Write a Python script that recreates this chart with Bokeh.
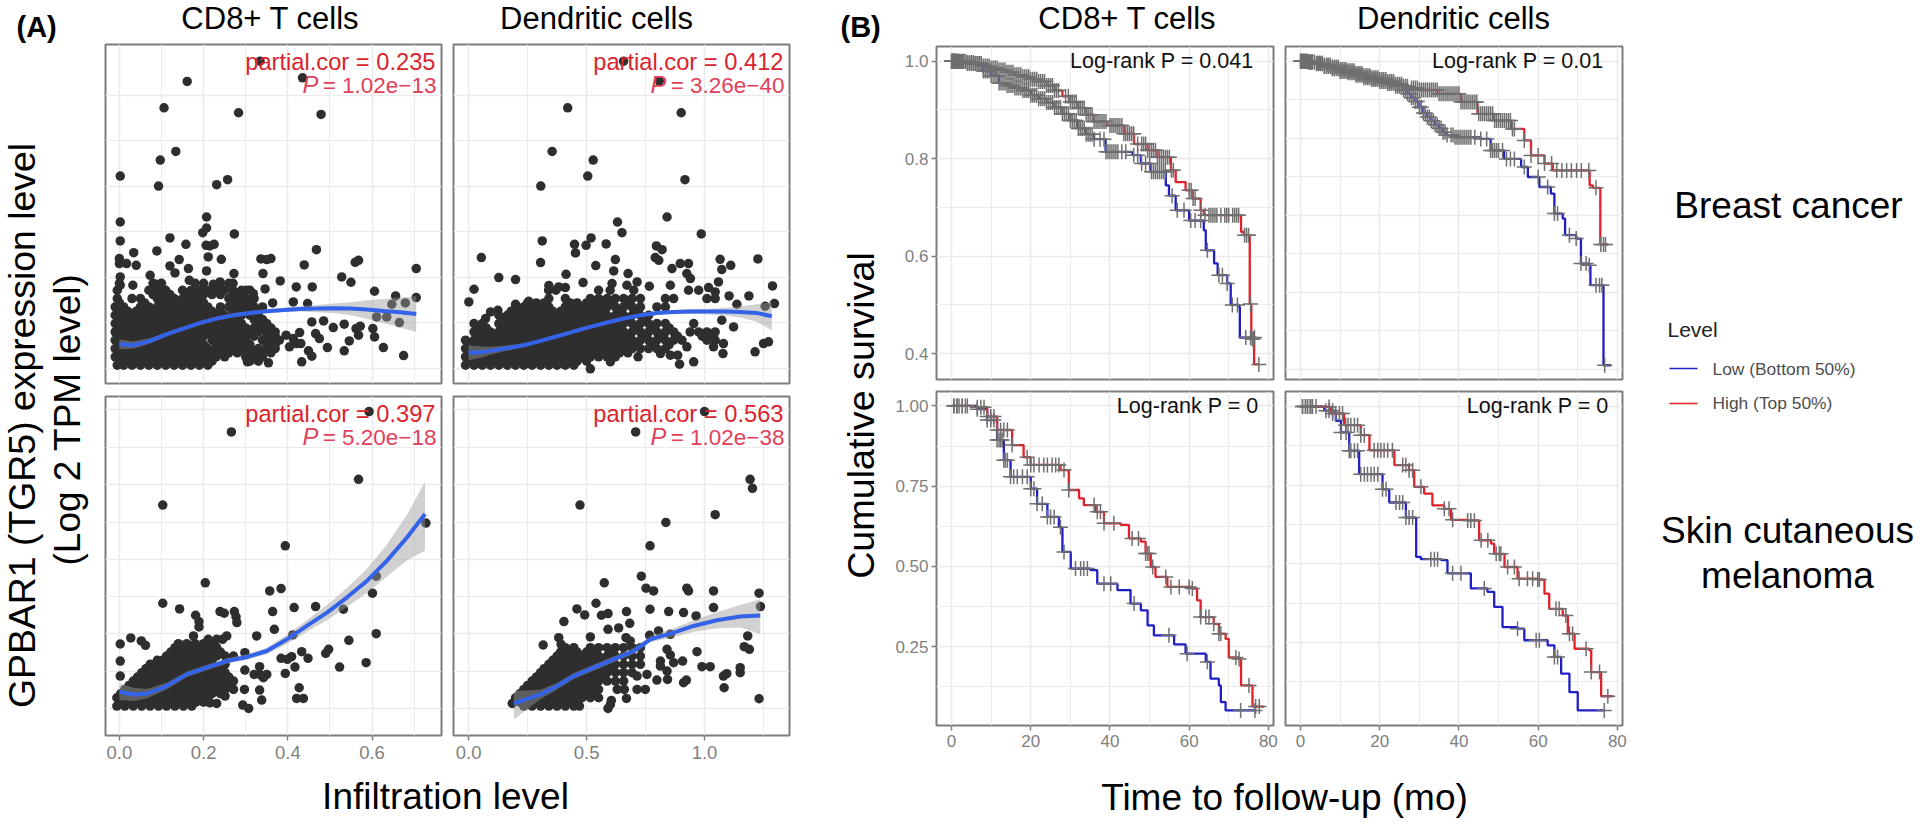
from bokeh.plotting import figure
from bokeh.layouts import row, column
from bokeh.models import Range1d, Grid, FixedTicker, LinearAxis, NumeralTickFormatter, Label
from bokeh.core.properties import value
from bokeh.embed import file_html
from bokeh.resources import INLINE
import numpy as np
from math import pi

FONT = "Liberation Sans"

# ---------- scatter panels: infiltration level (x) against expression (y, arbitrary units) ----------
a1_x = [.334,.435,.161,.106,.283,.479,.134,.097,.093,.002,.231,.257,.207,.002,.207,.198,.273,.120,.002,.158,.206,.225,.215,.089,.034,.468,.211,.142,.242,0,.017,0,.040,.336,.360,.350,.568,.560,.120,.164,.132,.207,.439,.705,.272,.341,.073,.002,.528,.382,.550,.032,.002,.166,.239,.223,.089,.420,.458,.346,.606,.656,.705,.679,.647,.413,.447,.364,.318,.302,.611,.635,.665,.457,.485,.534,.572,.562,.602,.508,.466,.428,.396,.606,.568,.475,.546,.413,.421,.494,.534,.627,.675,.449,.457,.404,.431,.433,.354,.304]
a1_y = [922,872,861,782,767,762,651,625,547,577,551,566,454,439,421,407,403,391,382,372,369,372,367,352,347,356,334,326,327,329,314,314,309,328,329,326,324,318,307,299,286,292,310,299,284,284,279,274,274,262,258,249,249,264,259,252,252,244,244,238,231,217,212,196,192,199,194,196,224,234,154,154,137,139,142,132,126,119,119,122,104,107,99,94,99,89,82,89,74,62,52,62,38,52,36,64,74,19,16,19]
a1_rows = [
 (9,[-.005,.01,.03,.05,.07,.09,.11,.13,.15,.17,.19,.21]),
 (34,[-.01,.01,.03,.05,.07,.09,.11,.13,.15,.17,.19,.21,.23,.25,.30,.32,.34]),
 (59,[-.01,.01,.03,.05,.07,.09,.11,.13,.15,.17,.19,.21,.23,.25,.27,.29,.31,.33,.35,.37]),
 (84,[-.01,.01,.03,.05,.07,.09,.11,.13,.15,.17,.19,.22,.24,.26,.28,.30,.34,.36,.38]),
 (109,[-.01,.01,.03,.05,.07,.09,.11,.13,.15,.17,.19,.21,.23,.25,.27,.29,.31,.33,.35,.37]),
 (134,[-.01,.01,.03,.05,.07,.09,.11,.13,.15,.17,.19,.21,.23,.25,.27,.29,.33,.35]),
 (159,[-.01,.01,.03,.05,.07,.09,.11,.13,.15,.17,.19,.21,.23,.25,.27,.29,.31,.33]),
 (184,[-.01,.01,.05,.07,.09,.11,.13,.15,.17,.19,.21,.24,.26,.28,.30,.32,.34]),
 (209,[-.005,.03,.05,.09,.11,.13,.15,.17,.19,.26,.28,.30,.32]),
 (234,[-.005,.07,.09,.11,.15,.17,.19,.21,.23,.25,.27,.29,.31]),
 (255,[0,.08,.10,.18,.20,.24,.26,.27]),
 (21,[0,.02,.04,.06,.08,.10,.12,.14,.16,.18,.20,.22,.31,.33]),
 (46,[0,.02,.04,.06,.08,.10,.12,.14,.16,.18,.20,.22,.24,.26,.28,.30,.32,.34,.36]),
 (71,[0,.02,.04,.06,.08,.10,.12,.14,.16,.18,.20,.23,.25,.27,.29,.31,.35,.37]),
 (96,[0,.02,.04,.06,.08,.10,.12,.14,.16,.18,.20,.22,.24,.26,.28,.30,.32,.35,.37]),
 (121,[0,.02,.04,.06,.08,.10,.12,.14,.16,.18,.20,.22,.24,.26,.28,.30,.32,.34,.36]),
 (146,[0,.02,.04,.06,.08,.10,.12,.14,.16,.18,.20,.22,.24,.26,.28,.32,.34]),
 (171,[0,.02,.04,.06,.08,.10,.12,.14,.16,.18,.20,.22,.24,.27,.29,.31,.33]),
 (196,[0,.06,.10,.12,.14,.16,.18,.20,.27,.29,.31]),
 (221,[.08,.10,.12,.16,.18,.20,.22,.24,.27,.29]),
]
a1_fit_x = [0,.033,.073,.113,.152,.192,.231,.271,.31,.35,.39,.429,.469,.508,.548,.588,.627,.667,.705]
a1_fit = [72,69,82,102,119,136,149,159,166,171,175,178,179,180,179,176,172,168,163]
a1_hi = [87,80,90,108,125,142,155,165,172,177,181,186,190,194,198,204,208,212,216]
a1_lo = [57,58,74,96,113,130,143,153,160,165,169,170,168,166,160,148,136,122,109]

a2_x = [.657,.808,.420,.901,.354,.528,.505,.917,.306,.841,.631,.650,.986,.519,.312,.498,.449,.583,.453,.796,.820,.791,.806,.054,.305,.622,.539,1.066,1.226,.897,.932,.862,1.111,1.073,.615,.676,.413,.925,.128,.199,.940,1.059,.485,.023,1.288,.340,.382,.410,.766,.608,.671,.714,.855,.932,1.017,.975,1.045,1.104,1.188,.001,1.296,1.137,1.257,.255,.199,.297,.432,.124,.093,.072,1.123,1.073,.954,1.271,1.250,1.214,1.080,.954,.894,.516,.601,.718,1.038,1.078,.925,.886,.855,.813]
a2_y = [922,863,782,767,651,625,577,566,547,454,439,407,403,391,382,369,372,373,346,367,356,332,324,332,317,326,308,327,328,314,314,299,309,296,292,284,282,284,272,266,269,259,257,237,247,248,244,242,246,254,249,259,249,234,242,234,229,217,217,199,194,192,186,201,192,189,194,174,169,149,124,144,134,79,74,49,74,19,12,-2,19,34,64,44,64,39,39,44]
a2_rows = [
 (9,[-.013,.023,.058,.093,.128,.164,.199,.234,.269,.305,.34,.375,.41,.446]),
 (34,[-.013,.023,.058,.093,.128,.164,.199,.234,.269,.305,.34,.375,.41,.446,.481,.516,.551,.587,.622]),
 (59,[-.013,.023,.058,.093,.128,.164,.199,.234,.269,.305,.34,.375,.41,.446,.481,.516,.551,.587,.622,.657,.693,.728,.763,.798,.834]),
 (84,[-.013,.023,.058,.093,.128,.164,.199,.234,.269,.305,.34,.375,.41,.446,.481,.516,.551,.587,.622,.657,.693,.728,.763,.798,.834,.869,.904,1.01,1.045]),
 (109,[.023,.058,.093,.128,.164,.199,.234,.269,.305,.34,.375,.41,.446,.481,.516,.551,.587,.622,.657,.693,.728,.763,.798,.834,.869,.939,.975,1.01,1.045]),
 (134,[.023,.058,.128,.164,.199,.234,.269,.305,.34,.375,.41,.446,.481,.516,.551,.587,.622,.657,.693,.728,.763,.798,.834]),
 (159,[.128,.164,.199,.234,.269,.305,.34,.375,.41,.446,.481,.516,.551,.587,.622,.657,.693,.728,.763]),
 (184,[.199,.234,.269,.305,.34,.41,.446,.481,.516,.551,.587,.622,.657,.693,.728,.798,.834]),
 (209,[.34,.41,.516,.551,.587,.622,.657,.693,.728,.834,.869,1.01,1.045]),
 (234,[.339,.37,.551,.6,.7]),
 (21,[.005,.04,.075,.11,.146,.18,.216,.25,.287,.32,.357,.39,.428,.46,.5]),
 (46,[.005,.04,.075,.11,.146,.18,.216,.25,.287,.32,.357,.39,.428,.46,.5,.533,.57,.604,.64,.675]),
 (71,[.005,.04,.075,.11,.146,.18,.216,.25,.287,.32,.357,.39,.428,.46,.5,.533,.57,.604,.64,.675,.71,.78,.85]),
 (96,[.04,.075,.11,.146,.18,.216,.25,.287,.32,.357,.39,.428,.46,.5,.533,.57,.604,.64,.675,.745,.816,.885,.99,1.03]),
 (121,[.04,.075,.146,.18,.216,.25,.287,.32,.357,.39,.428,.46,.5,.533,.57,.604,.64,.71,.78,.85]),
 (146,[.146,.18,.216,.25,.287,.32,.357,.39,.428,.46,.5,.533,.57,.604,.675,.745]),
 (171,[.18,.216,.25,.287,.32,.357,.39,.428,.46,.5,.533,.57,.64,.71]),
 (196,[.25,.287,.32,.43,.46,.5,.533,.57,.604,.675]),
]
a2_fit_x = [0,.05,.093,.16,.234,.305,.375,.445,.516,.587,.657,.728,.798,.869,.939,1.01,1.08,1.15,1.22,1.285]
a2_fit = [46,48,52,60,69,82,96,110,124,137,149,159,166,169,170,170,170,169,166,156]
a2_hi = [68,65,64,68,75,87,101,115,129,142,154,164,171,175,177,178,181,186,192,199]
a2_lo = [24,31,40,52,63,77,91,105,119,132,144,154,161,163,163,162,159,152,140,114]

a3_x = [.593,.266,.568,.103,.728,.394,.204,.610,.357,.384,.601,.103,.143,.415,.466,.532,.364,.239,.249,.273,.181,.277,.189,.189,.279,.368,.326,.176,.255,.412,.610,.027,.052,.062,.002,.545,.433,.497,.490,.448,.409,.384,.399,.586,.523,.417,.394,.002,.333,.298,.320,.350,.333,.342,.002,.427,.333,.421,.437,.338,.297,.293,.307,.231,.215,.251,.298]
a3_y = [889,828,686,609,555,487,376,396,352,359,345,315,298,302,305,297,290,290,285,290,279,274,260,244,257,237,217,217,217,220,224,211,202,189,193,204,170,177,165,150,155,150,147,137,124,124,105,142,125,115,102,102,102,92,97,62,55,30,30,25,57,10,0,15,17,37,167]
a3_rows = [
 (7,[-.006,.013,.033,.053,.073,.093,.112,.132,.152,.172]),
 (32,[-.006,.013,.033,.053,.073,.093,.112,.132,.152,.172,.192,.211]),
 (57,[.013,.033,.053,.073,.093,.112,.132,.152,.172,.192,.211,.231,.251,.271]),
 (82,[.033,.053,.073,.093,.112,.132,.152,.172,.192,.211,.231,.251,.271]),
 (107,[.053,.073,.093,.112,.132,.152,.172,.192,.211,.231,.251]),
 (132,[.073,.093,.112,.132,.152,.172,.192,.211,.251]),
 (157,[.112,.132,.152,.172,.192,.211,.231,.251,.271]),
 (182,[.132,.152,.172,.192,.211,.231]),
 (207,[.211,.231,.245]),
 (19,[.003,.023,.043,.063,.083,.103,.122,.142,.162,.182,.2]),
 (44,[.003,.023,.043,.063,.083,.103,.122,.142,.162,.182,.2,.22,.24]),
 (69,[.023,.043,.063,.083,.103,.122,.142,.162,.182,.2,.22,.24,.26]),
 (94,[.043,.063,.083,.103,.122,.142,.162,.182,.2,.22,.24,.26]),
 (119,[.063,.083,.103,.122,.142,.162,.182,.2,.22,.24]),
 (144,[.09,.103,.122,.142,.162,.182,.2,.22]),
 (169,[.122,.142,.162,.182,.2,.22,.24]),
 (194,[.14,.16,.18,.2,.22]),
]
a3_fit_x = [0,.033,.065,.112,.16,.207,.255,.303,.35,.398,.445,.493,.54,.588,.635,.683,.726]
a3_fit = [50,42,44,67,102,122,142,154,172,207,247,287,332,382,442,512,582]
a3_hi = [75,62,58,77,110,130,150,162,182,221,264,310,360,418,490,580,679]
a3_lo = [25,22,30,57,94,114,134,146,162,193,230,264,304,346,394,444,472]

a4_x = [1.0,.708,1.193,1.203,.472,1.045,.836,.769,.732,.575,.752,.784,.925,.932,1.038,1.231,1.237,1.038,.769,.540,.459,.492,.669,.848,.911,.964,.563,.591,.404,.683,.636,.591,.805,.767,.855,1.183,.382,.392,.316,.516,.667,.685,1.168,1.190,.968,.841,.855,.907,.813,.869,.989,1.024,.813,.841,1.151,1.151,1.094,1.080,.843,.798,.923,.911,1.083,.714,.756,.749,.714,.669,.605,.601,.591,1.231,.185]
a4_y = [889,828,686,659,609,580,557,487,396,376,360,352,360,352,352,345,305,302,297,315,298,280,290,290,287,277,279,284,260,255,241,237,232,219,222,217,212,192,190,214,212,202,185,177,170,177,160,142,142,137,125,125,127,112,122,107,104,97,87,85,85,77,62,97,102,57,57,30,24,12,0,29,15]
a4_rows = [
 (7,[.234,.269,.305,.34,.375,.41,.446,.47]),
 (32,[.199,.234,.269,.305,.34,.375,.41,.446,.481,.516,.551]),
 (57,[.234,.269,.305,.34,.375,.41,.446,.481,.516,.551,.63,.66]),
 (82,[.269,.305,.34,.375,.41,.446,.481,.516,.551,.587,.622,.657]),
 (107,[.305,.34,.375,.41,.446,.481,.516,.551,.587,.622,.657,.693]),
 (132,[.34,.375,.41,.446,.481,.516,.551,.587,.622,.657,.693,.728]),
 (157,[.375,.41,.446,.481,.516,.551,.587,.622,.657,.693,.728]),
 (182,[.41,.446,.516,.551,.587,.622,.657,.693,.728]),
 (19,[.217,.25,.287,.32,.357,.39,.428,.46]),
 (44,[.217,.25,.287,.32,.357,.39,.428,.46,.5,.533]),
 (69,[.25,.287,.32,.357,.39,.428,.46,.5,.533]),
 (94,[.287,.32,.357,.39,.428,.46,.5,.533,.57]),
 (119,[.32,.357,.39,.428,.46,.5,.533,.57,.604]),
 (144,[.357,.39,.428,.46,.5,.533,.57]),
 (169,[.39,.428,.46,.5,.533,.604]),
]
a4_fit_x = [.192,.305,.375,.446,.53,.615,.7,.77,.869,.953,1.052,1.151,1.236]
a4_fit = [15,42,67,97,122,147,172,207,227,247,264,275,278]
a4_hi = [52,56,77,106,131,156,181,216,240,264,288,310,327]
a4_lo = [-33,28,57,88,113,138,163,198,214,230,240,242,224]

# ---------- survival panels: time (mo) against cumulative survival ----------
b1_hi_t = [0,2,4,6,8,10,12,14,16,18,20,22,24,26,28,30,32,34,36,39.3,43.5,46.1,49.5,52,55.4,56.6,59.1,60.8,62.9,63.7,73.1,73.8,75.3,75.7,76.4,77.6]
b1_hi_s = [1,.999,.997,.995,.99,.986,.982,.977,.972,.968,.963,.958,.95,.94,.928,.916,.904,.89,.876,.868,.851,.83,.817,.803,.776,.752,.735,.718,.694,.684,.65,.643,.502,.43,.378,.378]
b1_lo_t = [0,4,8,10,12,14,16,18,20,22,24,26,28,30,32,34,36,38.9,45.7,47.8,50.3,54.1,54.9,56.6,60,63.7,64.2,66.3,67.2,69.6,70.5,72.6,72.8,76.8]
b1_lo_s = [1,.995,.98,.97,.955,.95,.945,.94,.93,.923,.915,.905,.892,.878,.862,.85,.84,.814,.807,.79,.773,.745,.724,.694,.673,.653,.612,.585,.561,.544,.5,.496,.433,.433]
b1_hi_c = [0,.1,.2,.3,.4,.5,.6,.7,.8,.9,1,1.2,1.4,1.6,1.8,2,2.2,2.4,2.6,2.8,3,3.5,4,4.5,5,5.5,6,6.5,7,7.5,8,8.5,9,9.5,10,10.5,11,11.5,12,12.5,13,13.5,14,14.5,15,15.5,16,16.5,17,17.5,18,18.5,19,19.5,20,20.5,21,21.5,22,22.5,23,23.5,24,24.5,25,25.5,26,26.5,27,28.8,29.5,30,30.5,31,31.5,32,32.5,33,33.5,34,34.5,35,35.5,36,36.5,37,37.5,38,38.5,39,40,40.5,41,41.5,42,42.5,43,43.5,44,44.5,45,45.5,46,47,48,48.5,49,49.5,50,50.5,51,51.5,52,52.5,53,53.5,54,54.5,55,55.5,56,60,60.5,61,61.5,63,64,65,65.5,66,66.5,67,68,69,69.5,70,71,71.5,72,72.5,74,74.5,75,75.5,75.9,76.2,77.6]
b1_lo_c = [0,.2,.4,.6,.8,1,1.5,2,2.5,3,3.5,4,4.5,5,5.5,6,6.5,7,7.5,8,8.5,9,9.5,10,10.5,11,11.5,12,12.5,13,13.5,14,14.5,15,15.5,16,16.5,17,17.5,18,18.5,19,19.5,20,20.5,21,21.5,22,22.5,23,23.5,24,24.5,25,25.5,26,26.5,27,27.5,28,28.5,29,29.5,30,30.5,31,31.5,32,32.5,33,33.5,34,34.5,35,35.5,36,37.5,38.5,39,39.5,40,40.5,41,41.5,42,43,44,46,47,48,49,50,50.5,51,51.5,52,52.5,53,53.5,54,55.7,57,58.7,60.4,61.5,62.9,64.6,67.5,68.4,69.6,70.9,72.2,74.3,75.5,76.5]

b2_hi_t = [0,2,4,6,8,10,12,14,16,18,20,22,24,26,28,30,34.6,40.5,44.7,48.9,53.1,56.5,58.2,61.6,63.7,73,73.8,75.7,77.6]
b2_hi_s = [1,.998,.995,.99,.985,.978,.975,.968,.962,.957,.952,.947,.94,.935,.93,.925,.915,.894,.863,.846,.824,.794,.755,.734,.716,.677,.671,.524,.524]
b2_lo_t = [0,2,4,6,8,10,12,14,16,18,20,22,24,26,27,28,29,30,31,32,33,34,35,36,37,39,45.5,48,51.4,55.7,57.4,60.3,63.2,64.1,66.2,66.8,69.6,70.8,72.9,73.2,76.5,78.4]
b2_lo_s = [1,.998,.993,.986,.98,.973,.97,.963,.957,.952,.947,.942,.935,.925,.915,.905,.895,.88,.865,.855,.845,.835,.825,.815,.808,.802,.798,.768,.746,.725,.699,.673,.656,.604,.591,.548,.539,.474,.47,.418,.21,.21]
b2_hi_c = [0,.2,.4,.6,.8,1,1.2,1.4,1.6,1.8,2,2.2,2.4,2.6,2.8,3,4.2,4.8,5.4,6,6.6,7,7.5,8,8.5,9,9.5,10,10.5,11,11.5,12,12.5,13,13.5,14,14.5,15,15.5,16,16.5,17,17.5,18,18.5,19,19.5,20,20.5,21,21.5,22,22.5,23,23.5,24,24.5,25,25.5,26,26.5,27,28,28.5,29,29.5,30,30.5,31,31.5,32,32.5,33,33.5,34,34.5,35,35.5,36,36.5,37,37.5,38,38.5,39,39.5,40,40.5,41,41.5,42,42.5,43,43.5,44,44.5,45,45.5,46,46.5,47,47.5,48,48.5,49,49.5,50,50.5,51,51.5,52,52.5,53,53.5,54,56.5,58.2,60,61.6,63.4,64.7,66,67.2,68.4,69.7,70.9,72.8,74.6,75.8,76.5,77]
b2_lo_c = [0,.5,1,1.5,2,2.5,3,3.5,4,4.5,5,5.5,6,6.5,7,7.5,8,8.5,9,9.5,10,10.5,11,11.5,12,12.5,13,13.5,14,14.5,15,15.5,16,16.5,17,17.5,18,18.5,19,19.5,20,20.5,21,21.5,22,22.5,23,23.5,24,24.5,25,25.5,26,26.5,27,27.5,28,28.5,29,29.5,30,30.5,31,31.5,32,32.5,33,33.5,34,34.5,35,35.5,36,36.5,37,38,38.5,39,39.5,40,40.5,41,41.5,42,42.5,43,44,45.5,47,48,48.5,49,49.5,50,51,52,53,54,56.5,60,62.4,64.1,64.9,67.9,69.6,70.8,72.1,72.9,74.6,75.5,76.1,76.8]

b3_hi_t = [0,5.6,9,11.5,15.3,18.2,19.96,27.5,29.6,32.2,33.4,36.4,38.5,42.7,44.8,47.8,49,50.3,51.5,54.5,60.8,62,62.9,66.2,67.5,69.2,70,72.5,73.1,76,78.9]
b3_hi_s = [1,.996,.967,.925,.878,.84,.816,.8,.738,.712,.691,.67,.634,.629,.587,.577,.54,.498,.467,.436,.431,.394,.342,.321,.29,.274,.216,.211,.129,.063,.063]
b3_lo_t = [0,6.5,9,11.5,13.2,14.9,20,21.6,24.2,27.1,28,30.1,35.1,36.8,41.9,45.2,47.8,49.5,51.1,56.2,59.1,64.2,65.4,67.5,68,69.2,76.4]
b3_lo_s = [1,.99,.956,.894,.831,.779,.742,.695,.654,.622,.545,.493,.488,.446,.426,.384,.363,.316,.285,.257,.228,.202,.15,.129,.077,.051,.051]
b3_hi_c = [.6,1.3,1.9,2.7,3.5,6.5,7.4,8.2,9,9.9,10.7,11.5,12.4,13.2,14.1,15.3,19.1,20,20.8,22.1,23.3,24.2,25.4,26.3,27.1,28.4,29.6,36,36.8,37.6,38.5,41,45.6,47.2,49,49.5,49.9,50.8,54.1,55.4,57.5,60,60.8,62.9,64.2,65,66.2,67.5,68,71.8,72.6,75.1,76.8,77.7]
b3_lo_c = [.6,1.4,2.7,4,6.5,9,9.9,10.7,11.5,12,12.4,12.8,13.2,13.6,14.1,14.9,15.7,16.6,17.9,19.1,20,20.8,21.6,22.9,24.2,25,25.9,27.5,28.4,31.3,32.6,33.4,34.3,38.5,40.2,46.1,54.9,59.5,64.6,73,76.6]

b4_hi_t = [0,7.2,7.7,11,15.2,17.4,23.7,27.4,28.7,31.2,33.3,36.3,38,42.2,45.1,48.1,48.9,51.5,54.8,59.9,61.6,62.8,66.2,67.5,69.2,72.9,73.4,75.9,78.8]
b4_hi_s = [1,.999,.978,.941,.909,.861,.814,.798,.745,.723,.686,.675,.64,.638,.575,.564,.532,.49,.453,.45,.405,.357,.336,.278,.23,.225,.156,.079,.079]
b4_lo_t = [0,6,8.9,10.2,12.3,14.8,20.7,22.4,26.6,29.2,30.4,35.5,37.1,43,47.2,48.9,51,54.8,56.5,62.4,64.1,65.8,67.9,70,76.7]
b4_lo_s = [1,.987,.955,.918,.86,.785,.737,.695,.647,.522,.515,.512,.47,.422,.411,.363,.299,.294,.257,.241,.204,.151,.092,.034,.034]
b4_hi_c = [.5,1.2,1.8,2.4,3,3.9,7.2,8.1,8.9,9.8,10.6,11.4,12,12.7,13.6,14.4,15.2,16.1,18.6,19.5,20.3,21.1,22,23.2,25.8,26.6,27.4,28.3,30.4,36.3,37.5,38.4,42.2,43,43.9,45.6,47.3,49.4,50.2,50.6,52.3,54,55.2,57.3,58.6,59.9,60.3,64.5,65.3,67,67.9,68.7,72.1,73.4,75.5,77.6]
b4_lo_c = [.5,1.3,2.6,6.4,7.2,8.1,10.2,11.5,12.3,12.7,13.6,14.4,15.2,16.1,16.9,17.8,18.6,19.5,20.7,21.6,24.1,25,25.8,26.6,27.4,28.3,32.9,33.8,34.6,38.4,40.5,46.4,54.8,59.5,60.3,64.1,64.9,76.7]

LEVELS = ["Low (Bottom 50%)", "High (Top 50%)"]
COL_LOW, COL_HIGH = "#1f1fc4", "#e0202a"
GRID = "#ebebeb"
FRAME = "#7d7d7d"
TICK = "#808080"
BASE_FIX = 0.33   # the renderer sets alphabetic text this many ems below the anchor
RANGES = {}


def base(w, h, box, xr, yr, xmaj, xmin, ymaj, ymin):
    l, r, t, b = box
    p = figure(width=w, height=h, x_range=Range1d(*xr), y_range=Range1d(*yr),
               x_axis_location=None, y_axis_location=None, output_backend="svg",
               toolbar_location=None, min_border_left=l, min_border_right=r,
               min_border_top=t, min_border_bottom=b, outline_line_color=FRAME,
               outline_line_width=2, background_fill_color="white")
    for g in list(p.grid):
        g.visible = False
    p.add_layout(Grid(dimension=0, ticker=FixedTicker(ticks=xmaj, minor_ticks=xmin), grid_line_color=GRID,
                      grid_line_width=1.6, minor_grid_line_color=GRID, minor_grid_line_width=1))
    p.add_layout(Grid(dimension=1, ticker=FixedTicker(ticks=ymaj, minor_ticks=ymin), grid_line_color=GRID,
                      grid_line_width=1.6, minor_grid_line_color=GRID, minor_grid_line_width=1))
    RANGES[p.id] = (xr, yr)
    return p


def axis(p, side, ticks, fmt, size, standoff):
    ax = LinearAxis(ticker=FixedTicker(ticks=ticks), formatter=NumeralTickFormatter(format=fmt),
                    axis_line_color=None, major_tick_line_color=TICK, major_tick_line_width=1.5,
                    major_tick_in=0, major_tick_out=5, minor_tick_line_color=None,
                    major_label_text_color=TICK, major_label_text_font=FONT,
                    major_label_text_font_size=size, major_label_standoff=standoff)
    p.add_layout(ax, side)


def note(p, geom, px, py, txt, color, size, align="right", style="normal"):
    L, R, T, B = geom
    xr, yr = RANGES[p.id]
    py = py - BASE_FIX * float(size[:-2])
    x = xr[0] + (px - L) / (R - L) * (xr[1] - xr[0])
    y = yr[0] + (B - py) / (B - T) * (yr[1] - yr[0])
    p.text([x], [y], text=[txt], text_color=color, text_font=value(FONT), text_font_size=size,
           text_align=align, text_baseline="alphabetic", text_font_style=style)


def scatter(p, xs, ys, rows, fx, fy, hi, lo):
    ax = list(xs) + [x for y, r in rows for x in r]
    ay = list(ys) + [y for y, r in rows for _ in r]
    p.scatter(ax, ay, size=9.5, fill_color="#2e2e2e", line_color=None)
    p.varea(fx, hi, lo, fill_color="#999999", fill_alpha=0.45)
    p.line(fx, fy, line_color="#3463ea", line_width=4)


def corr(p, geom, right, base_y, pleft, r_txt, p_txt):
    note(p, geom, right, base_y, r_txt, "#d9242e", "23.7px")
    note(p, geom, right + 1, base_y + 23, p_txt, "#e2405a", "22.5px")
    note(p, geom, pleft, base_y + 23, "P", "#e2405a", "23.7px", "left", "italic")


def surv(p, lt, ls, ht, hs, lc, hc):
    p.step(lt, ls, mode="after", line_color=COL_LOW, line_width=2.3)
    p.step(ht, hs, mode="after", line_color=COL_HIGH, line_width=2.3)
    for t, s, c in ((lt, ls, lc), (ht, hs, hc)):
        idx = np.searchsorted(t, c, side="right") - 1
        p.scatter(c, np.array(s)[idx], marker="cross", size=15, line_color="#6f6f6f", line_width=1.5, fill_color=None)


def strip(x0, x1, y0, y1):
    p = figure(width=x1 - x0, height=y1 - y0, x_range=Range1d(x0, x1), y_range=Range1d(y1, y0),
               x_axis_location=None, y_axis_location=None, output_backend="svg", toolbar_location=None,
               min_border=0, outline_line_color=None)
    for g in list(p.grid):
        g.visible = False
    return p


def txt(p, x, y, s, size, color="#000000", align="center", angle=0.0, style="normal"):
    d = BASE_FIX * float(size[:-2])
    if angle:
        x = x - d
    else:
        y = y - d
    p.text([x], [y], text=[s], text_color=color, text_font=value(FONT), text_font_size=size,
           text_align=align, text_baseline="alphabetic", angle=angle, text_font_style=style)


# ---------- panel A ----------
A_XT1, A_XM1 = [0, .2, .4, .6], [.1, .3, .5, .7]
A_XT2, A_XM2 = [0, .5, 1], [.25, .75, 1.25]
A_YT_T, A_YM_T = [0, 273, 546, 819], [137, 410, 683]
A_YT_B, A_YM_B = [0, 224, 447, 670, 894], [112, 335, 558, 782]
XR1, XR2 = (-0.033, 0.765), (-0.064, 1.36)
YR_T, YR_B = (-46, 972), (-81, 934)

a1 = base(357, 346, (15, 6, 1, 6), XR1, YR_T, A_XT1, A_XM1, A_YT_T, A_YM_T)
a2 = base(348, 346, (6, 6, 1, 6), XR2, YR_T, A_XT2, A_XM2, A_YT_T, A_YM_T)
a3 = base(357, 381, (15, 6, 7, 35), XR1, YR_B, A_XT1, A_XM1, A_YT_B, A_YM_B)
a4 = base(348, 381, (6, 6, 7, 35), XR2, YR_B, A_XT2, A_XM2, A_YT_B, A_YM_B)
scatter(a1, a1_x, a1_y, a1_rows, a1_fit_x, a1_fit, a1_hi, a1_lo)
scatter(a2, a2_x, a2_y, a2_rows, a2_fit_x, a2_fit, a2_hi, a2_lo)
scatter(a3, a3_x, a3_y, a3_rows, a3_fit_x, a3_fit, a3_hi, a3_lo)
scatter(a4, a4_x, a4_y, a4_rows, a4_fit_x, a4_fit, a4_hi, a4_lo)
axis(a3, "below", A_XT1, "0.0", "18.5px", 5)
axis(a4, "below", A_XT2, "0.0", "18.5px", 5)
a3.add_layout(Label(x=-0.057, y=-140, text=")", text_color=TICK, text_font=FONT, text_font_size="18.5px"))
corr(a1, (105, 441, 44, 383), 435, 69, 302, "partial.cor = 0.235", "= 1.02e\u221213")
corr(a2, (453, 789, 44, 383), 783, 69, 650, "partial.cor = 0.412", "= 3.26e\u221240")
corr(a3, (105, 441, 396, 735), 435, 421, 302, "partial.cor = 0.397", "= 5.20e\u221218")
corr(a4, (453, 789, 396, 735), 783, 421, 650, "partial.cor = 0.563", "= 1.02e\u221238")

# ---------- panel B ----------
B_XT, B_XM = [0, 20, 40, 60, 80], [10, 30, 50, 70]
XRB = (-3.8, 81.3)
b1 = base(397, 342, (54, 6, 3, 6), XRB, (.347, 1.03), B_XT, B_XM, [.4, .6, .8, 1], [.5, .7, .9])
b2 = base(349, 342, (6, 6, 3, 6), XRB, (.173, 1.038), B_XT, B_XM, [.2, .4, .6, .8, 1], [.3, .5, .7, .9])
b3 = base(397, 385, (54, 6, 6, 45), XRB, (.004, 1.045), B_XT, B_XM, [.25, .5, .75, 1], [.125, .375, .625, .875])
b4 = base(349, 385, (6, 6, 6, 45), XRB, (-.014, 1.048), B_XT, B_XM, [.25, .5, .75, 1], [.125, .375, .625, .875])
surv(b1, b1_lo_t, b1_lo_s, b1_hi_t, b1_hi_s, b1_lo_c, b1_hi_c)
surv(b2, b2_lo_t, b2_lo_s, b2_hi_t, b2_hi_s, b2_lo_c, b2_hi_c)
surv(b3, b3_lo_t, b3_lo_s, b3_hi_t, b3_hi_s, b3_lo_c, b3_hi_c)
surv(b4, b4_lo_t, b4_lo_s, b4_hi_t, b4_hi_s, b4_lo_c, b4_hi_c)
axis(b1, "left", [.4, .6, .8, 1], "0.0", "17px", 3)
axis(b3, "left", [.25, .5, .75, 1], "0.00", "17px", 3)
axis(b3, "below", B_XT, "0", "17px", 4)
axis(b4, "below", B_XT, "0", "17px", 4)
note(b1, (936, 1273, 46, 379), 1253, 68, "Log-rank P = 0.041", "#111111", "21.5px")
note(b2, (1285, 1622, 46, 379), 1603, 68, "Log-rank P = 0.01", "#111111", "21.5px")
note(b3, (936, 1273, 391, 725), 1258, 413, "Log-rank P = 0", "#111111", "21.5px")
note(b4, (1285, 1622, 391, 725), 1608, 413, "Log-rank P = 0", "#111111", "21.5px")

# ---------- surrounding text ----------
top = strip(0, 1918, 0, 43)
txt(top, 16, 36, "(A)", "29px", align="left", style="bold")
txt(top, 840, 36, "(B)", "29px", align="left", style="bold")
txt(top, 270, 28, "CD8+ T cells", "31px")
txt(top, 596, 28, "Dendritic cells", "31px")
txt(top, 1127, 28, "CD8+ T cells", "31px")
txt(top, 1453, 28, "Dendritic cells", "31px")

left = strip(0, 90, 43, 770)
txt(left, 34, 425, "GPBAR1 (TGR5) expression level", "37.4px", angle=pi / 2)
txt(left, 79, 419, "(Log 2 TPM level)", "37px", angle=pi / 2)

mid = strip(795, 882, 43, 770)
txt(mid, 873, 415, "Cumulative survival", "37.7px", angle=pi / 2)

right = strip(1628, 1918, 43, 770)
txt(right, 1788, 217, "Breast cancer", "37px")
txt(right, 1787, 542, "Skin cutaneous", "37px")
txt(right, 1787, 587, "melanoma", "37px")
txt(right, 1667, 336, "Level", "21px", align="left", color="#222222")
txt(right, 1712, 374, LEVELS[0], "17.4px", align="left", color="#4d4d4d")
txt(right, 1712, 408, LEVELS[1], "17.4px", align="left", color="#4d4d4d")
right.line([1669, 1697], [368, 368], line_color=COL_LOW, line_width=1.6)
right.line([1669, 1697], [403, 403], line_color=COL_HIGH, line_width=1.6)

bottom = strip(0, 1918, 770, 822)
txt(bottom, 445, 808, "Infiltration level", "37px")
txt(bottom, 1284, 809, "Time to follow-up (mo)", "37px")

page = column(
    top,
    row(left,
        column(row(a1, a2), row(a3, a4)),
        mid,
        column(row(b1, b2), row(b3, b4)),
        right),
    bottom,
)

open("out.html", "w").write(file_html(page, INLINE))
